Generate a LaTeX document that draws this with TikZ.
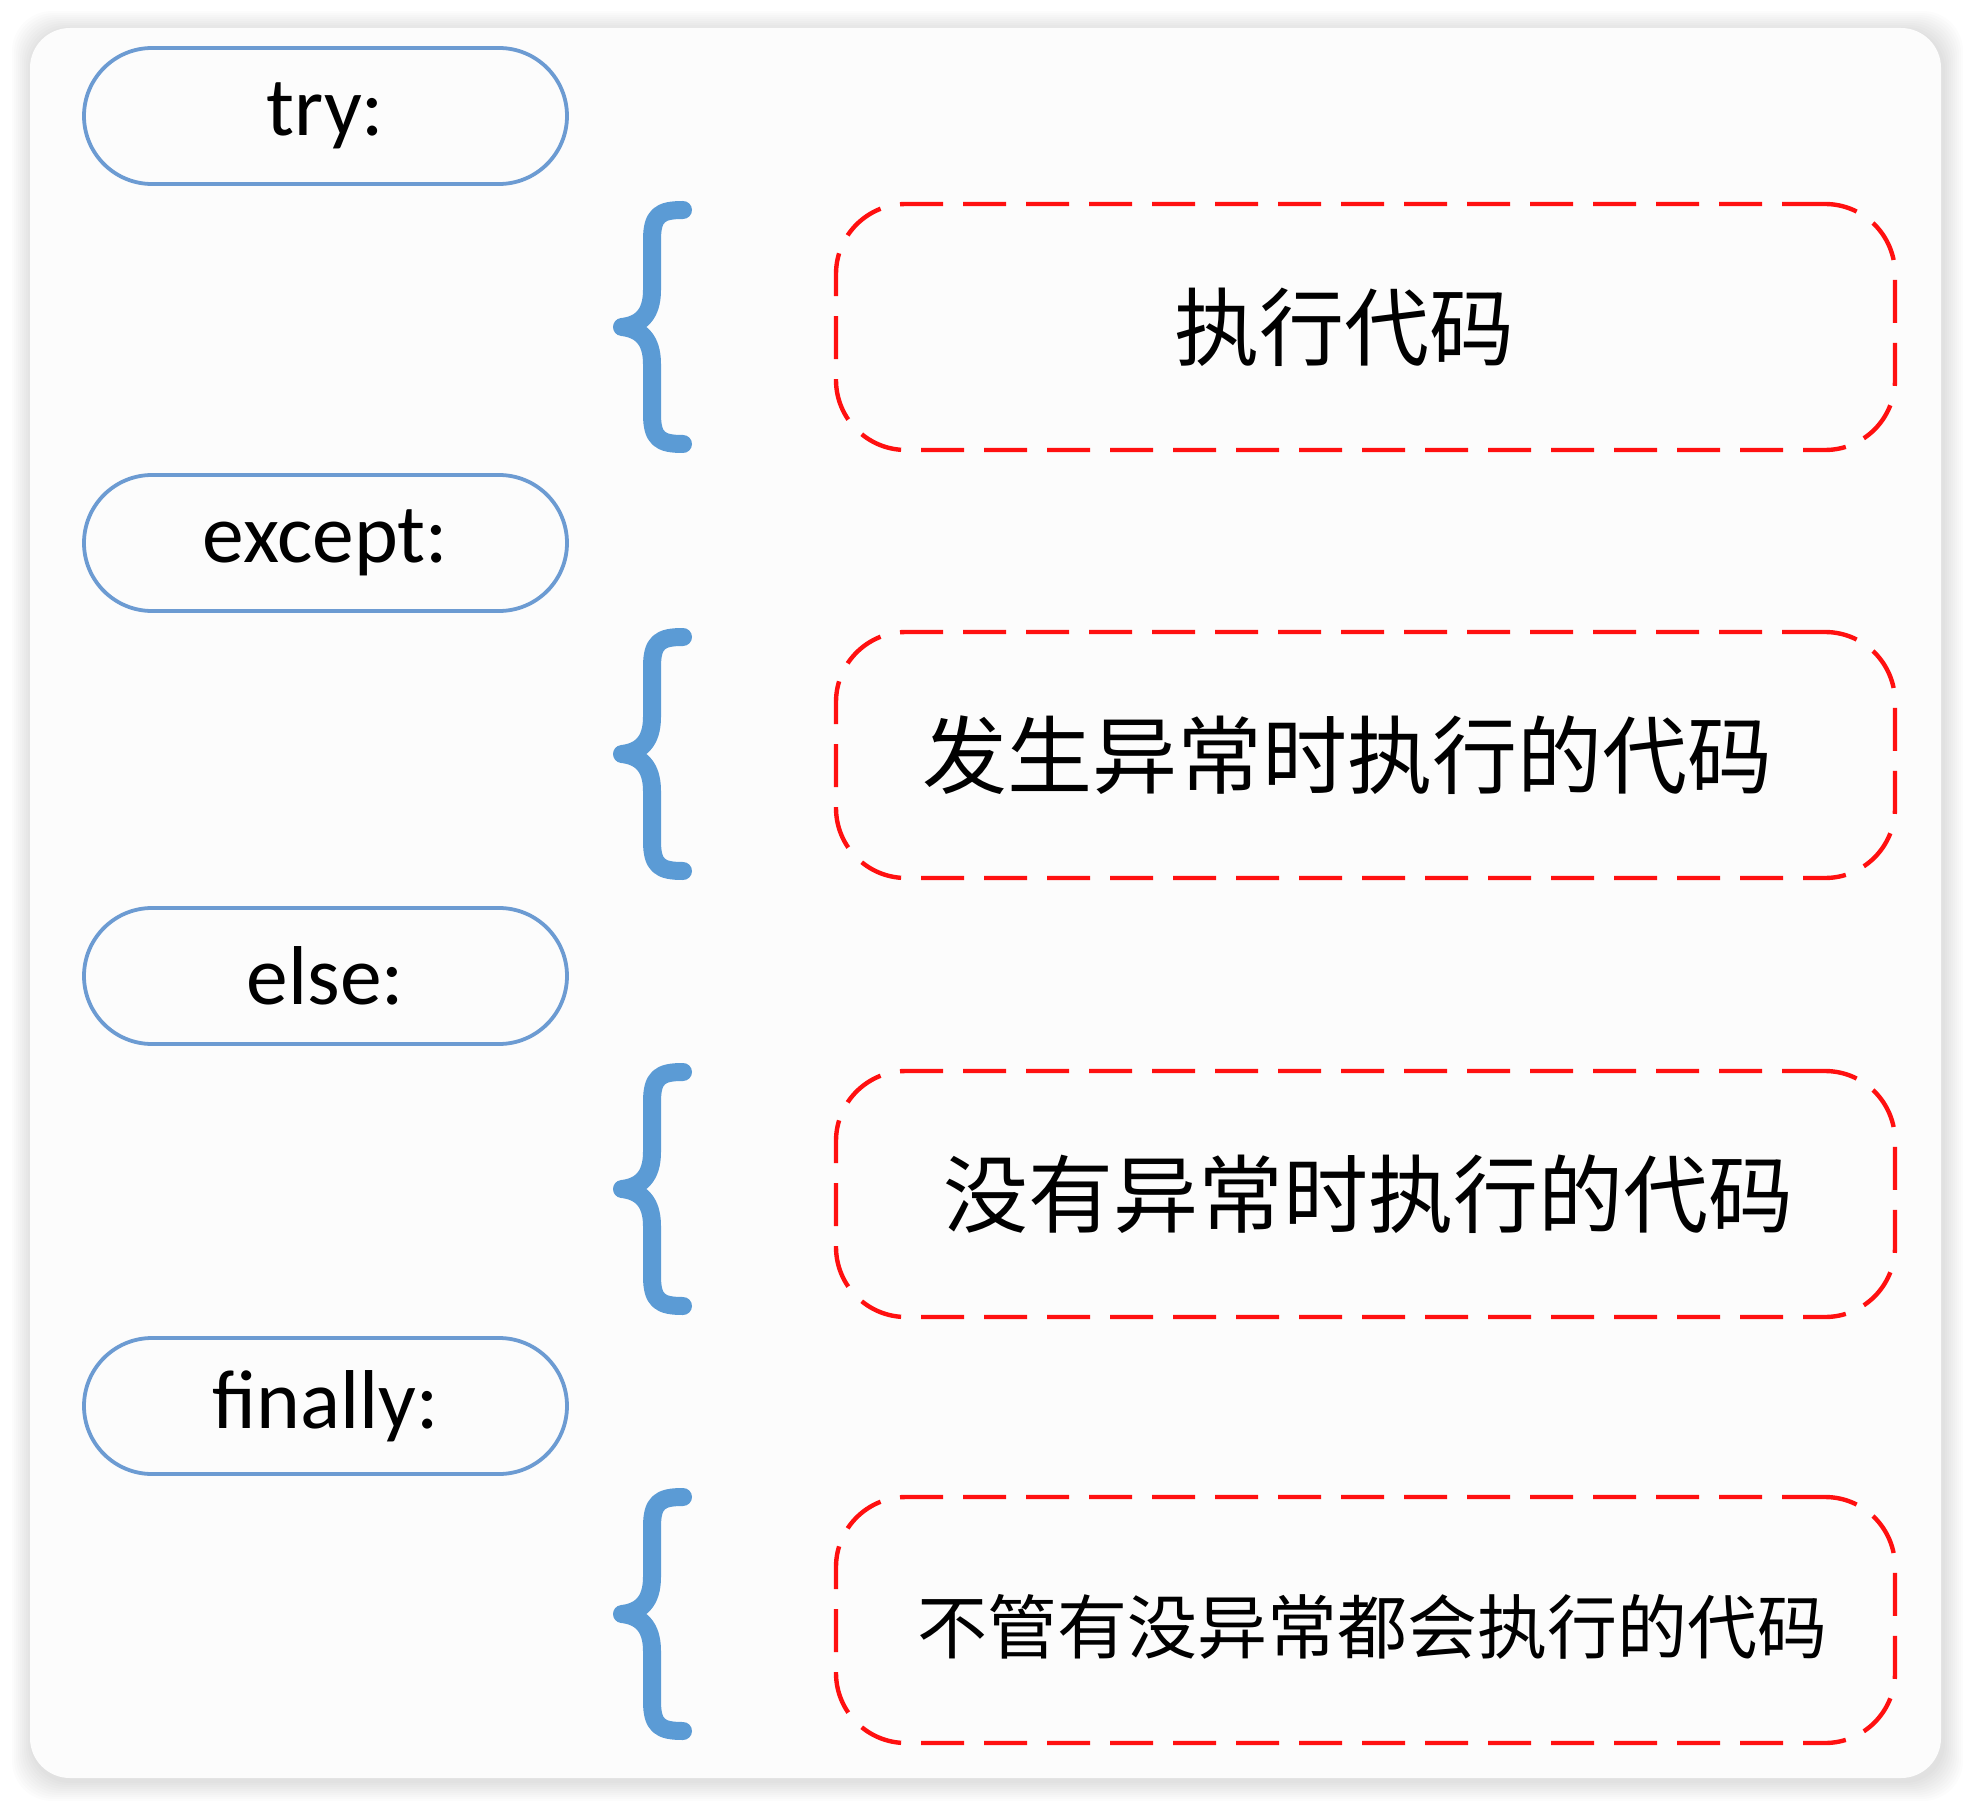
\documentclass[tikz,border=0pt]{standalone}
\usepackage{fontspec}
\setmainfont{Carlito}
\newfontfamily\cjk{Noto Sans CJK SC}
\definecolor{pillblue}{HTML}{6C9BD2}
\definecolor{braceblue}{HTML}{5B9BD5}
\definecolor{dashred}{HTML}{FF1010}
\definecolor{cardbg}{HTML}{FCFCFC}
\tikzset{
  keyword/.style={draw=pillblue,line width=1.9pt,minimum width=241.5pt,minimum height=68pt,
    rounded corners=34pt,inner sep=0pt,font=\fontsize{41.75}{48}\selectfont},
  codebox/.style={draw=dashred,line width=2.2pt,dash pattern=on 21.5pt off 10pt,
    minimum width=529.5pt,minimum height=123pt,rounded corners=35pt,inner sep=0pt},
  bigcjk/.style={font=\cjk\fontsize{42.5}{50}\selectfont},
  smallcjk/.style={font=\cjk\fontsize{35}{42}\selectfont},
  braceline/.style={draw=braceblue,line width=9pt,line cap=round,line join=round},
  pics/curly/.style={code={
    \draw[braceline] (31,-117) .. controls (8,-117) and (0,-112) .. (0,-87) -- (0,-37)
      .. controls (0,-12) and (-12,-2) .. (-30,0) .. controls (-12,2) and (0,12) .. (0,37)
      -- (0,87) .. controls (0,112) and (8,117) .. (31,117);
  }}
}
\begin{document}
\begin{tikzpicture}[x=0.5pt,y=-0.5pt]
\useasboundingbox (0,0) rectangle (1970,1808);
\fill[white] (0,0) rectangle (1970,1808);

\foreach \s in {2,4,...,20}
  \fill[black,opacity=0.012,rounded corners=20pt] (30-\s+2,28-\s+3) rectangle (1941+\s+2,1778+\s+3);
\fill[cardbg,rounded corners=20pt] (30,28) rectangle (1941,1778);

\node[keyword] (try) at (325.5,116) {try:};
\node[keyword] (except) at (325.5,543) {except:};
\node[keyword] (else) at (325.5,976) {else:};
\node[keyword] (finally) at (325.5,1406) {finally:};

\pic at (652,327) {curly};
\pic at (652,754) {curly};
\pic at (652,1189) {curly};
\pic at (652,1614) {curly};

\node[codebox] (trybox) at (1365.5,327) {};
\node[codebox] (exceptbox) at (1365.5,755) {};
\node[codebox] (elsebox) at (1365.5,1194) {};
\node[codebox] (finallybox) at (1365.5,1620) {};

\node[bigcjk] (trytext) at (1344,327) {执行代码};
\node[bigcjk] (excepttext) at (1347,755) {发生异常时执行的代码};
\node[bigcjk] (elsetext) at (1368,1194) {没有异常时执行的代码};
\node[smallcjk] (finallytext) at (1372,1627) {不管有没异常都会执行的代码};
\end{tikzpicture}
\end{document}
